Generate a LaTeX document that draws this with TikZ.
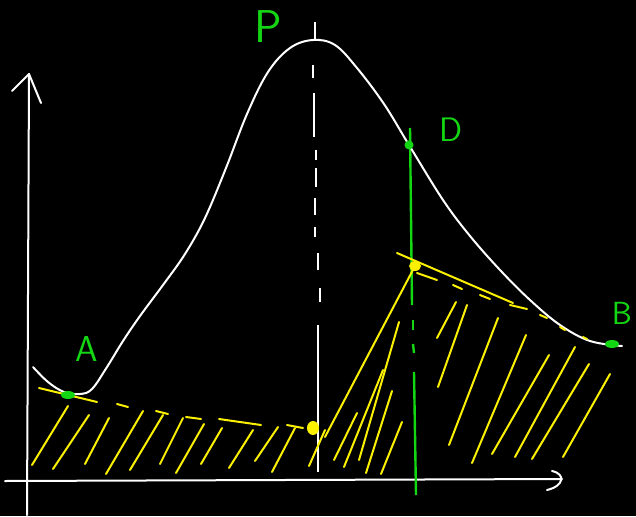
\documentclass[tikz,border=0pt]{standalone}
\definecolor{hgreen}{RGB}{20,215,20}
\definecolor{hyellow}{RGB}{250,240,0}
\tikzset{
  axisline/.style={white, line width=2pt, line cap=round, line join=round},
  curveline/.style={white, line width=2pt, line cap=round},
  guideline/.style={white, line width=2pt},
  hatchline/.style={hyellow, line width=2pt, line cap=round},
  chordline/.style={hyellow, line width=2pt, line cap=round},
  gline/.style={hgreen, line width=2.4pt},
  lbl/.style={text=hgreen, font=\sffamily\fontsize{36}{36}\selectfont, inner sep=0pt},
}
\begin{document}
\begin{tikzpicture}[x=1pt,y=-1pt]
\fill[black] (0,0) rectangle (636,516);
\useasboundingbox (0,0) rectangle (636,516);

% axes
\coordinate (yb) at (27,515);
\coordinate (yt) at (29,74);
\coordinate (xl) at (5,481);
\coordinate (xr) at (562,479);
\draw[axisline] (yb) -- (yt);
\draw[axisline] (12,91) -- (yt) -- (41,103);
\draw[axisline] (xl) -- (xr);
\draw[axisline] (552,471) .. controls (566,474) and (564,486) .. (547,490);

% white dash-dot guide through P
\draw[guideline] (315,22) -- (315,40);
\foreach \a/\b/\x in {65/78/313, 93/137/314, 150/160/316, 168/187/316, 198/215/315, 227/237/315, 253/270/318, 288/302/320}
  \draw[guideline] (\x,\a) -- (\x,\b);
\draw[guideline] (318,325) -- (318,472);

% green vertical through D
\draw[gline] (410,128) -- (412,305);
\draw[gline] (413,320) -- (413,330);
\draw[gline] (413,344) -- (414,353);
\draw[gline] (414,372) -- (416,495);

% curve
\draw[curveline] plot[smooth, tension=0.6] coordinates {(33,367) (48,382) (64,392) (80,394) (92,389) (107,367) (123,341) (140,316) (163,285) (185,254) (205,218) (226,168) (247,114) (268,72) (290,48) (313,40) (335,45) (357,68) (384,104) (409,145) (443,200) (470,236) (500,270) (530,300) (560,325) (590,341) (622,346)};

% yellow chord A -> C (dashed by hand)
\foreach \p/\q in {{(39,388)}/{(97,402)}, {(117,404)}/{(128,407)}, {(156,411)}/{(168,414)}, {(186,417)}/{(201,419)}, {(219,419)}/{(261,425)}, {(287,425)}/{(303,428)}}
  \draw[chordline] \p -- \q;

% yellow chord C -> E and tangent at E
\coordinate (C) at (313,428);
\coordinate (E) at (415,266);
\draw[chordline] (325,437) -- (E);
\draw[chordline] (397,253) -- (513,303);
\foreach \p/\q in {{(417,273)}/{(437,280)}, {(453,285)}/{(462,289)}, {(480,295)}/{(490,299)}, {(510,305)}/{(527,309)}, {(540,315)}/{(547,318)}, {(560,327)}/{(565,330)}, {(583,337)}/{(587,339)}}
  \draw[chordline] \p -- \q;

% hatching
\foreach \p/\q in {
  {(68,406)}/{(32,465)}, {(89,415)}/{(53,469)}, {(109,418)}/{(85,464)}, {(143,411)}/{(106,474)},
  {(163,415)}/{(130,470)}, {(183,418)}/{(160,464)}, {(204,424)}/{(176,473)}, {(222,428)}/{(201,464)},
  {(253,430)}/{(229,468)}, {(278,427)}/{(255,461)}, {(295,428)}/{(272,472)}, {(325,430)}/{(309,466)},
  {(357,413)}/{(334,460)}, {(383,370)}/{(344,467)}, {(399,322)}/{(359,460)}, {(392,391)}/{(366,473)},
  {(402,422)}/{(381,474)},
  {(456,302)}/{(437,338)}, {(467,305)}/{(438,387)}, {(498,318)}/{(449,445)}, {(526,335)}/{(472,463)},
  {(549,355)}/{(492,454)}, {(575,347)}/{(515,457)}, {(589,364)}/{(532,459)}, {(610,374)}/{(563,457)}}
  \draw[hatchline] \p -- \q;

% blobs and dots
\fill[hyellow] (C) ellipse (6 and 7);
\fill[hyellow] (E) ellipse (6 and 5);
\fill[hgreen] (68,395) ellipse (7 and 4);
\fill[hgreen] (612,344) ellipse (7 and 4);
\fill[hgreen] (409,145) circle (4.5);

% labels
\node[lbl, font=\sffamily\fontsize{46}{46}\selectfont] (P) at (268,27) {P};
\node[lbl, font=\sffamily\fontsize{34}{34}\selectfont] (D) at (451,130) {D};
\node[lbl] (A) at (87,349) {A};
\node[lbl, font=\sffamily\fontsize{32}{32}\selectfont] (B) at (622,313) {B};
\end{tikzpicture}
\end{document}
